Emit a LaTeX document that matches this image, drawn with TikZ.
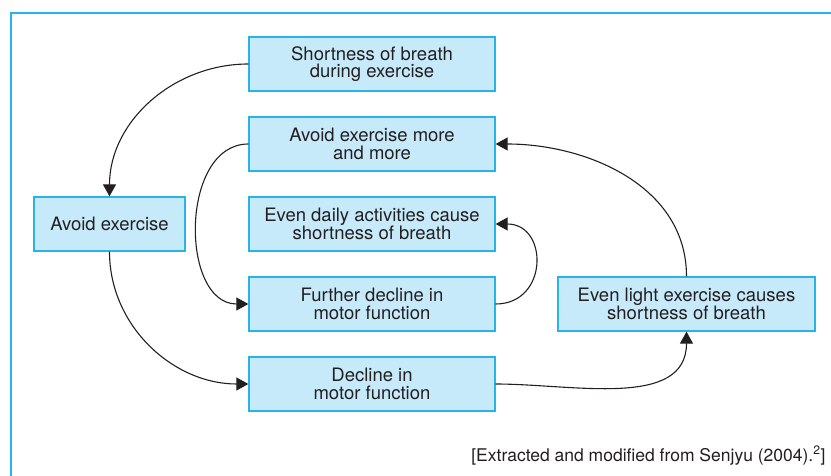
\documentclass[tikz,border=0pt]{standalone}
\usepackage{fontspec}
\setmainfont{TeX Gyre Heros}
\usetikzlibrary{arrows.meta}

\definecolor{boxfill}{RGB}{199,234,250}
\definecolor{boxline}{RGB}{40,180,235}
\definecolor{ink}{RGB}{35,31,32}

\tikzset{
  box/.style={draw=boxline, fill=boxfill, line width=1.3pt, text=ink, align=center,
    inner sep=0pt, minimum height=54pt, font=\fontsize{18.5}{17.5}\selectfont},
  link/.style={draw=ink, line width=1.1pt, -{Triangle[length=12pt,width=13pt]}}
}

\begin{document}
\begin{tikzpicture}[x=1pt, y=-1pt]

\useasboundingbox (0,0) rectangle (831,476);
\draw[boxline, line width=2pt] (11,13) rectangle (900,520);

% middle column
\node[box, minimum width=246pt] (breath) at (372,64) {Shortness of breath\\during exercise};
\node[box, minimum width=246pt] (more) at (372,144) {Avoid exercise more\\and more};
\node[box, minimum width=246pt] (daily) at (372,224) {Even daily activities cause\\shortness of breath};
\node[box, minimum width=246pt] (further) at (372,304) {Further decline in\\motor function};
\node[box, minimum width=246pt] (decline) at (372,384) {Decline in\\motor function};

% sides
\node[box, minimum width=151pt] (avoid) at (109.5,224) {Avoid exercise};
\node[box, minimum width=257pt] (light) at (686.5,304) {Even light exercise causes\\shortness of breath};

\node[text=ink, anchor=base east, font=\fontsize{17.5}{18}\selectfont] (src) at (829,461)
  {[Extracted and modified from Senjyu (2004).\textsuperscript{2}]};

\draw[link] (breath.west) to[out=180, in=90] (avoid.north);
\draw[link] (avoid.south) to[out=-90, in=180] (decline.west);
\draw[link] (decline.east) to[out=0, in=-90] (light.south);
\draw[link] (light.north) to[out=90, in=0] (more.east);
\draw[link] (more.west) to[out=180, in=180, looseness=1.1] (further.west);
\draw[link] (further.east) to[out=0, in=0, looseness=1.7] (daily.east);

\end{tikzpicture}
\end{document}
